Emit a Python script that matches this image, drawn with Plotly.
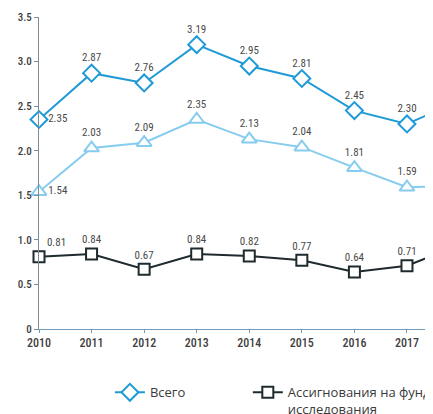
import plotly.graph_objects as go

years = [2010, 2011, 2012, 2013, 2014, 2015, 2016, 2017, 2018]
total = [2.35, 2.87, 2.76, 3.19, 2.95, 2.81, 2.45, 2.30, 2.56]
applied = [1.54, 2.03, 2.09, 2.35, 2.13, 2.04, 1.81, 1.59, 1.61]
fundamental = [0.81, 0.84, 0.67, 0.84, 0.82, 0.77, 0.64, 0.71, 0.94]

names = ["Всего", "Ассигнования на прикладные исследования",
         "Ассигнования на фундаментальные<br>исследования"]

y_tickvals = [0, 0.5, 1.0, 1.5, 2.0, 2.5, 3.0, 3.5]
y_ticktext = ["0", "0.5", "1.0", "1.5", "2.0", "2.5", "3.0", "3.5"]

FONT = "Liberation Sans Narrow, Roboto Condensed, Roboto, sans-serif"
LBL = "#4a4a4a"

def positions(first):
    return [first] + ["top center"] * (len(years) - 1)

fig = go.Figure()
fig.add_trace(go.Scatter(
    x=years, y=total, name=names[0], mode="lines+markers+text",
    line=dict(color="#1f9ad6", width=2),
    marker=dict(symbol="diamond", size=13, color="white",
                line=dict(color="#1f9ad6", width=2)),
    text=[f"{v:.2f}" for v in total], textposition=positions("middle right"),
    textfont=dict(family=FONT, size=11, color=LBL), cliponaxis=False,
    legend="legend",
))
fig.add_trace(go.Scatter(
    x=years, y=applied, name=names[1], mode="lines+markers+text",
    line=dict(color="#86ccee", width=2),
    marker=dict(symbol="triangle-up", size=13, color="white",
                line=dict(color="#86ccee", width=2)),
    text=[f"{v:.2f}" for v in applied], textposition=positions("middle right"),
    textfont=dict(family=FONT, size=11, color=LBL), cliponaxis=False,
    showlegend=False,
))
fig.add_trace(go.Scatter(
    x=years, y=fundamental, name=names[2], mode="lines+markers+text",
    line=dict(color="#1e2a2e", width=2),
    marker=dict(symbol="square", size=11, color="white",
                line=dict(color="#1e2a2e", width=2)),
    text=[f"{v:.2f}" for v in fundamental], textposition=positions("top right"),
    textfont=dict(family=FONT, size=11, color=LBL), cliponaxis=False,
    legend="legend2",
))

legend_font = dict(family="Open Sans, sans-serif", size=13, color="#3a3a3a")

fig.update_layout(
    width=433, height=414,
    margin=dict(l=31, r=8, t=9, b=93, autoexpand=False),
    paper_bgcolor="white", plot_bgcolor="white",
    font=dict(family=FONT, size=11, color="#4a4a4a"),
    xaxis=dict(range=[2010, 2017.495], tickvals=years, showgrid=False,
               zeroline=False, showline=True, linecolor="#6e9cbb", linewidth=1,
               ticks="outside", ticklen=3, tickcolor="#6e9cbb", automargin=False,
               tickfont=dict(family=FONT, size=12, color="#404040", weight=500)),
    yaxis=dict(range=[0, 3.5], tickvals=y_tickvals, ticktext=y_ticktext,
               showgrid=False, zeroline=False, showline=True, automargin=False,
               linecolor="#7d8b96", linewidth=1, ticks="outside", ticklen=4,
               tickcolor="#7d8b96",
               tickfont=dict(family=FONT, size=11, color="#404040", weight=500)),
    legend=dict(orientation="h", x=0.18, y=-0.155, xanchor="left", yanchor="top",
                valign="top", font=legend_font),
    legend2=dict(orientation="h", x=0.53, y=-0.155, xanchor="left", yanchor="top",
                 valign="top", font=legend_font),
)

fig.write_html("out.html")
